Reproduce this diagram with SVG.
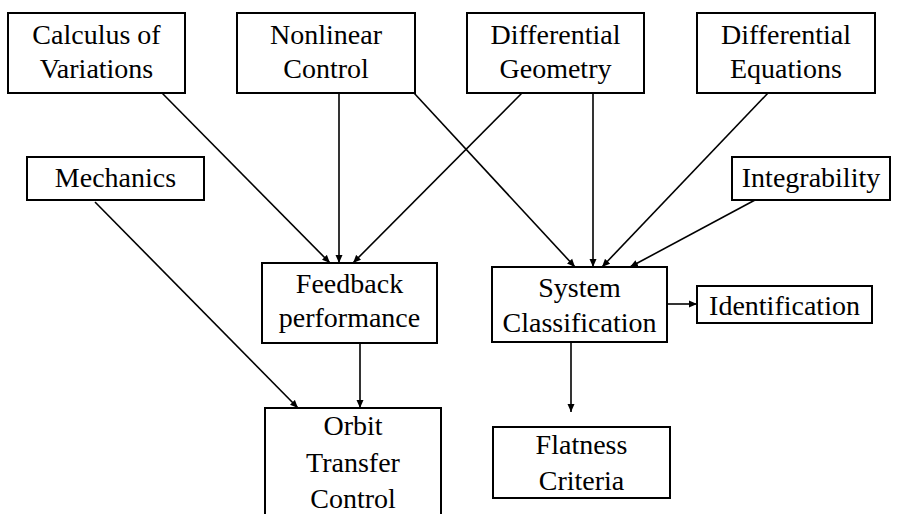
<svg xmlns="http://www.w3.org/2000/svg" width="901" height="514" viewBox="0 0 901 514" font-family="Liberation Serif, DejaVu Serif, serif">
<style>
.box{fill:#fff;stroke:#000;stroke-width:2}
.t{font-size:28px;fill:#000;text-anchor:middle}
.c{stroke:#000;stroke-width:1.6;fill:none;marker-end:url(#ah)}
</style>
<defs>
<marker id="ah" markerUnits="userSpaceOnUse" markerWidth="9" markerHeight="8" refX="8" refY="4" orient="auto">
<path d="M0,0.5 L8,4 L0,7.5 Z" fill="#000"/>
</marker>
</defs>
<rect width="901" height="514" fill="#fff"/>
<g id="connectors">
<line class="c" x1="162" y1="93" x2="330" y2="263"/>
<line class="c" x1="339" y1="93" x2="339" y2="263"/>
<line class="c" x1="522" y1="93" x2="353" y2="263"/>
<line class="c" x1="414" y1="93" x2="575" y2="267"/>
<line class="c" x1="593" y1="93" x2="593" y2="267"/>
<line class="c" x1="768" y1="93" x2="602" y2="267"/>
<line class="c" x1="755" y1="200" x2="630" y2="267"/>
<line class="c" x1="95" y1="202" x2="298" y2="408"/>
<line class="c" x1="360" y1="343" x2="360" y2="408"/>
<line class="c" x1="571" y1="342" x2="571" y2="412"/>
<line class="c" x1="665" y1="304" x2="697" y2="304"/>
</g>
<g id="n-calculus">
<rect class="box" x="8" y="13" width="177" height="80"/>
<text class="t" x="96.5" y="44" font-family="Liberation Serif">Calculus of</text>
<text class="t" x="96.5" y="78" font-family="Liberation Serif">Variations</text>
</g>
<g id="n-nonlinear">
<rect class="box" x="237" y="13" width="178" height="80"/>
<text class="t" x="326" y="44">Nonlinear</text>
<text class="t" x="326" y="78">Control</text>
</g>
<g id="n-diffgeo">
<rect class="box" x="467" y="13" width="177" height="80"/>
<text class="t" x="555.5" y="44">Differential</text>
<text class="t" x="555.5" y="78">Geometry</text>
</g>
<g id="n-diffeq">
<rect class="box" x="697" y="13" width="178" height="80"/>
<text class="t" x="786" y="44">Differential</text>
<text class="t" x="786" y="78">Equations</text>
</g>
<g id="n-mechanics">
<rect class="box" x="27" y="157" width="177" height="43"/>
<text class="t" x="115.5" y="187">Mechanics</text>
</g>
<g id="n-integrability">
<rect class="box" x="732" y="157" width="158" height="43"/>
<text class="t" x="811" y="187">Integrability</text>
</g>
<g id="n-feedback">
<rect class="box" x="262" y="263" width="175" height="80"/>
<text class="t" x="349.5" y="293">Feedback</text>
<text class="t" x="349.5" y="327">performance</text>
</g>
<g id="n-system">
<rect class="box" x="492" y="267" width="175" height="75"/>
<text class="t" x="579.5" y="297">System</text>
<text class="t" x="579.5" y="332">Classification</text>
</g>
<g id="n-identification">
<rect class="box" x="697" y="286" width="175" height="37"/>
<text class="t" x="784.5" y="315">Identification</text>
</g>
<g id="n-orbit">
<rect class="box" x="265" y="408" width="176" height="130"/>
<text class="t" x="353" y="435">Orbit</text>
<text class="t" x="353" y="472">Transfer</text>
<text class="t" x="353" y="508">Control</text>
</g>
<g id="n-flatness">
<rect class="box" x="493" y="427" width="177" height="71"/>
<text class="t" x="581.5" y="454">Flatness</text>
<text class="t" x="581.5" y="490">Criteria</text>
</g>
</svg>
